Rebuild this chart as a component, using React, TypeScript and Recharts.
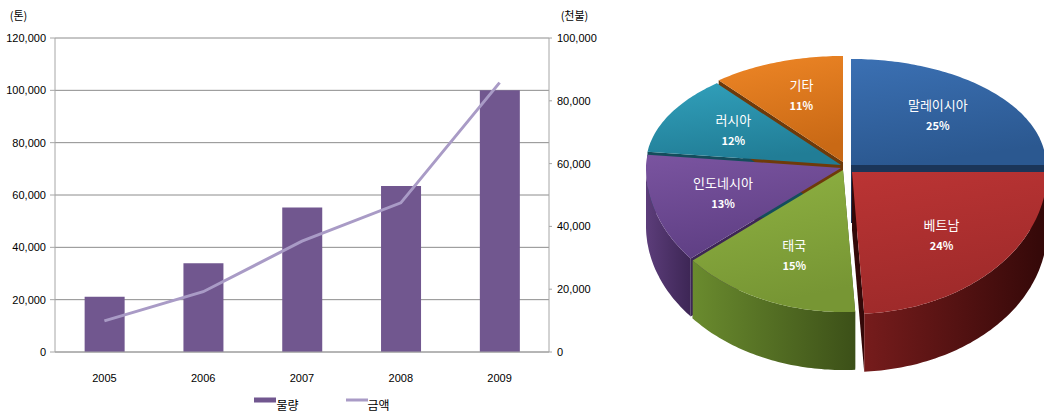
import React from "react"
import { ComposedChart, Bar, Line, XAxis, YAxis, CartesianGrid, Legend, PieChart, Pie } from "recharts"

// 연도별 물량(톤) / 금액(천불)
const years = ["2005", "2006", "2007", "2008", "2009"]
const volume = [21100, 33900, 55200, 63400, 100000]
const amount = [9900, 19200, 35300, 47500, 85800]
const leftTicks = [0, 20000, 40000, 60000, 80000, 100000, 120000]
const rightTicks = [0, 20000, 40000, 60000, 80000, 100000]
const edgeTicks = [0, 1, 2, 3, 4, 5]

// 국가별 비중
const countries = ["말레이시아", "베트남", "태국", "인도네시아", "러시아", "기타"]
const shares = [25, 24, 15, 13, 12, 11]

const barRows = years.map((year, i) => ({ year, volume: volume[i], amount: amount[i] }))
const pieRows = countries.map((name, i) => ({ name, value: shares[i] }))

const KR = '"Noto Sans CJK KR", "Noto Sans", sans-serif'
const NUM = '"Liberation Sans Narrow", "Arial Narrow", "Liberation Sans", sans-serif'
const AXIS = "#a6a6a6"

// pie styling
const TOP = [
  ["#3b70b3", "#2b5890"],
  ["#bb3434", "#9e2a2a"],
  ["#8fb242", "#779634"],
  ["#7a54a0", "#5f3f84"],
  ["#31a0bb", "#217d96"],
  ["#ee8626", "#c96915"],
]
const WALL = [
  ["#2a4f80", "#1b3558"],
  ["#761c1c", "#330808"],
  ["#6a8b2e", "#3c5018"],
  ["#5c3d7a", "#3d2655"],
  ["#1f6f84", "#144d5c"],
  ["#a95c12", "#6e3a0a"],
]
const EXPLODE = [[5, -3], [6, 4], [-3, 2], [-5, 0], [-5, -3], [-3, -6]]
const RY_TOP = 106 / 195
const RY_BOT = 142 / 195
const DEPTH = 58

const sliceIndex = (p: any) => {
  const n = p.name ?? p.payload?.name
  const i = countries.indexOf(n)
  return i >= 0 ? i : p.index ?? 0
}

const ell = (cx: number, cy: number, r: number, deg: number) => {
  const t = (deg * Math.PI) / 180
  const s = Math.sin(t)
  return [cx + r * Math.cos(t), cy - r * (s > 0 ? RY_TOP : RY_BOT) * s, s]
}

const arcPts = (cx: number, cy: number, r: number, a0: number, a1: number) => {
  const n = Math.max(2, Math.ceil(Math.abs(a1 - a0)) + 1)
  const pts: number[][] = []
  for (let k = 0; k < n; k++) pts.push(ell(cx, cy, r, a0 + ((a1 - a0) * k) / (n - 1)))
  return pts
}

const fmt = (q: number[], dy = 0) => `${q[0].toFixed(1)},${(q[1] + dy).toFixed(1)}`

const SideFaces = (p: any) => {
  const i = sliceIndex(p)
  const cx = p.cx + EXPLODE[i][0]
  const cy = p.cy + EXPLODE[i][1]
  const faces = [p.startAngle, p.endAngle].map((a: number) => {
    const q = ell(cx, cy, p.outerRadius, a)
    return `M${cx},${cy}L${fmt(q)}L${fmt(q, DEPTH)}L${cx},${cy + DEPTH}Z`
  })
  return (
    <g>
      {faces.map((d, k) => (
        <path key={k} d={d} fill={WALL[i][1]} />
      ))}
    </g>
  )
}

const OuterWall = (p: any) => {
  const i = sliceIndex(p)
  const cx = p.cx + EXPLODE[i][0]
  const cy = p.cy + EXPLODE[i][1]
  const pts = arcPts(cx, cy, p.outerRadius, p.startAngle, p.endAngle).filter((q) => q[2] <= 0.0001)
  if (pts.length < 2) return <g />
  const d =
    "M" + pts.map((q) => fmt(q)).join("L") + "L" + pts.slice().reverse().map((q) => fmt(q, DEPTH)).join("L") + "Z"
  const id = `wall-${i}`
  return (
    <g>
      <defs>
        <linearGradient id={id} x1="0" y1="0" x2="1" y2="0">
          <stop offset="0" stopColor={WALL[i][0]} />
          <stop offset="1" stopColor={WALL[i][1]} />
        </linearGradient>
      </defs>
      <path d={d} fill={`url(#${id})`} />
    </g>
  )
}

const TopFace = (p: any) => {
  const i = sliceIndex(p)
  const cx = p.cx + EXPLODE[i][0]
  const cy = p.cy + EXPLODE[i][1]
  const pts = arcPts(cx, cy, p.outerRadius, p.startAngle, p.endAngle)
  const d = `M${cx},${cy}L` + pts.map((q) => fmt(q)).join("L") + "Z"
  const id = `top-${i}`
  return (
    <g>
      <defs>
        <linearGradient id={id} x1="0" y1="0" x2="0.25" y2="1">
          <stop offset="0" stopColor={TOP[i][0]} />
          <stop offset="1" stopColor={TOP[i][1]} />
        </linearGradient>
      </defs>
      <path d={d} fill={`url(#${id})`} />
    </g>
  )
}

const renderPieLabel = (p: any) => {
  const i = sliceIndex(p)
  const t = (p.midAngle * Math.PI) / 180
  const s = Math.sin(t)
  const x = p.cx + EXPLODE[i][0] + p.outerRadius * 0.63 * Math.cos(t)
  const y = p.cy + EXPLODE[i][1] - p.outerRadius * (s > 0 ? RY_TOP : RY_BOT) * 0.66 * s
  return (
    <g key={`lbl-${i}`}>
      <text x={x} y={y - 6} textAnchor="middle" fill="#fff" fontSize={13} fontFamily={KR}>
        {countries[i]}
      </text>
      <text x={x} y={y + 14} textAnchor="middle" fill="#fff" fontSize={11} fontWeight="bold" fontFamily={KR}>
        {`${shares[i]}%`}
      </text>
    </g>
  )
}

const LegendContent = ({ payload }: any) => {
  const items = (payload || []).slice().sort((a: any, b: any) => (a.type === "rect" ? 0 : 1) - (b.type === "rect" ? 0 : 1))
  return (
    <div
      style={{
        display: "flex",
        justifyContent: "center",
        height: 18,
        lineHeight: "18px",
        paddingLeft: 44,
        fontFamily: KR,
        fontSize: 12,
        color: "#000",
      }}
    >
      {items.map((e: any, k: number) => (
        <div key={e.value} style={{ display: "flex", marginLeft: k ? 47 : 0 }}>
          <svg width={22} height={18}>
            {e.type === "rect" ? (
              <rect x={0} y={1.5} width={22} height={5} fill={e.color} />
            ) : (
              <line x1={0} x2={22} y1={4} y2={4} stroke={e.color} strokeWidth={3} />
            )}
          </svg>
          <span>{e.value}</span>
        </div>
      ))}
    </div>
  )
}

export default function App() {
  return (
    <div style={{ position: "absolute", left: 0, top: 0, width: 1044, height: 418, background: "#fff" }}>
      <div style={{ position: "absolute", left: 0, top: 0 }}>
        <ComposedChart
          width={600}
          height={418}
          data={barRows}
          margin={{ top: 38, right: 0, bottom: 4, left: 0 }}
          barCategoryGap="30%"
        >
          <CartesianGrid vertical={false} stroke="#8c8c8c" xAxisId="cat" yAxisId="left" />
          <XAxis
            xAxisId="cat"
            dataKey="year"
            axisLine={false}
            tickLine={false}
            tickSize={6}
            tickMargin={10}
            height={38}
            tick={{ fill: "#000", fontSize: 11, fontFamily: NUM }}
          />
          <XAxis
            xAxisId="a"
            type="number"
            domain={[0, 5]}
            ticks={edgeTicks}
            allowDataOverflow
            tick={false}
            tickSize={6}
            height={6}
            axisLine={{ stroke: AXIS }}
            tickLine={{ stroke: AXIS }}
          />
          <YAxis
            yAxisId="left"
            domain={[0, 120000]}
            ticks={leftTicks}
            width={55}
            tickSize={5}
            tickMargin={4}
            axisLine={{ stroke: AXIS }}
            tickLine={{ stroke: AXIS }}
            tick={{ fill: "#000", fontSize: 11, fontFamily: NUM }}
            tickFormatter={(v: number) => v.toLocaleString("en-US")}
            label={{ value: "(톤)", position: "top", offset: 18, dx: -9, fill: "#000", fontSize: 11, fontFamily: KR }}
          />
          <YAxis
            yAxisId="right"
            orientation="right"
            domain={[0, 100000]}
            ticks={rightTicks}
            width={51}
            tickSize={3}
            tickMargin={5}
            axisLine={{ stroke: AXIS }}
            tickLine={{ stroke: AXIS }}
            tick={{ fill: "#000", fontSize: 11, fontFamily: NUM }}
            tickFormatter={(v: number) => v.toLocaleString("en-US")}
            label={{ value: "(천불)", position: "top", offset: 18, fill: "#000", fontSize: 11, fontFamily: KR }}
          />
          <Bar xAxisId="cat" yAxisId="left" dataKey="volume" name="물량" fill="#71578f" isAnimationActive={false} />
          <Line
            xAxisId="cat"
            yAxisId="right"
            dataKey="amount"
            name="금액"
            type="linear"
            stroke="#a99bc6"
            strokeWidth={3}
            dot={false}
            activeDot={false}
            isAnimationActive={false}
          />
          <Legend verticalAlign="bottom" content={<LegendContent />} />
        </ComposedChart>
      </div>
      <div style={{ position: "absolute", left: 600, top: 0 }}>
        <PieChart width={444} height={418} margin={{ top: 0, right: 0, bottom: 0, left: 0 }}>
          <Pie
            data={pieRows}
            dataKey="value"
            nameKey="name"
            cx={246}
            cy={168}
            outerRadius={195}
            startAngle={90}
            endAngle={-270}
            stroke="none"
            shape={SideFaces}
            isAnimationActive={false}
          />
          <Pie
            data={pieRows}
            dataKey="value"
            nameKey="name"
            cx={246}
            cy={168}
            outerRadius={195}
            startAngle={90}
            endAngle={-270}
            stroke="none"
            shape={OuterWall}
            isAnimationActive={false}
          />
          <Pie
            data={pieRows}
            dataKey="value"
            nameKey="name"
            cx={246}
            cy={168}
            outerRadius={195}
            startAngle={90}
            endAngle={-270}
            stroke="none"
            shape={TopFace}
            label={renderPieLabel}
            labelLine={false}
            isAnimationActive={false}
          />
        </PieChart>
      </div>
    </div>
  )
}
